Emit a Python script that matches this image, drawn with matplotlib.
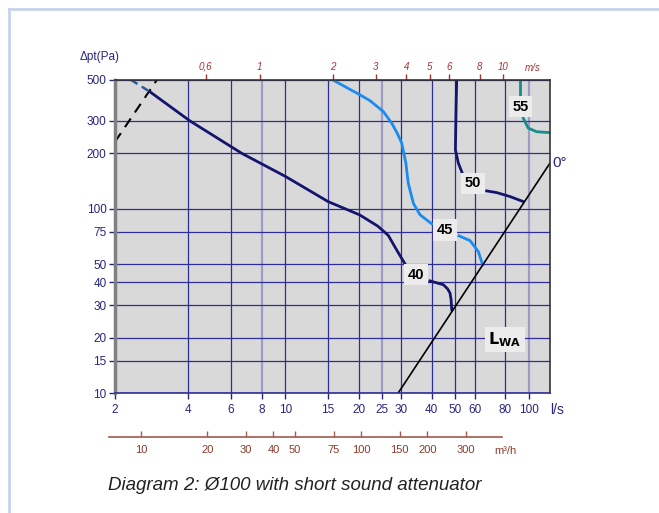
import matplotlib
matplotlib.use("Agg")
import matplotlib.pyplot as plt
from matplotlib.lines import Line2D
from matplotlib.ticker import NullLocator

plt.rcParams['font.family'] = ['Liberation Sans', 'DejaVu Sans']

NAVY = '#14146e'
GRID = '#2e2e96'
GRID_LIGHT = '#9c9cc8'
TXT = '#262680'
RED = '#a83232'
BROWN = '#8b3a2a'

# axis ticks
ls_ticks = [2, 4, 6, 8, 10, 15, 20, 25, 30, 40, 50, 60, 80, 100]
pa_ticks = [10, 15, 20, 30, 40, 50, 75, 100, 200, 300, 500]
ms_ticks = [0.6, 1, 2, 3, 4, 5, 6, 8, 10]
ms_labels = ['0,6', '1', '2', '3', '4', '5', '6', '8', '10']
m3h_ticks = [10, 20, 30, 40, 50, 75, 100, 150, 200, 300]
light_lines = [8, 25, 100]

# sound level curves: flow q (l/s) against pressure drop (Pa)
q40_dash = [2.33, 2.78]
p40_dash = [500, 432]
q40a = [2.78, 4.06, 6.63, 10.05, 15.0, 20.2, 24.0, 26.5, 29.0, 31.5]
p40a = [432, 300, 200, 149.5, 109.4, 92.7, 80.5, 71.7, 58.3, 48.6]
q40b = [39.3, 44.6, 46.4, 47.5, 48.0, 48.3]
p40b = [40.6, 38.7, 36.8, 34.9, 32.1, 28.3]

q45a = [15.7, 20.3, 22.3, 25.3, 27.4, 28.8, 30.1, 31.3, 32.0, 33.6, 35.8, 40.0]
p45a = [500, 415, 386, 337, 291, 258, 227, 177, 138, 107, 92.7, 82.8]
q45b = [51.7, 57.4, 62.1, 64.7]
p45b = [71.3, 67.2, 58.6, 49.6]

q50a = [50.6, 50.3, 50.0, 51.4, 53.9]
p50a = [500, 344, 209, 177, 151]
q50b = [67.2, 73.9, 83.8, 95.0]
p50b = [125, 122.4, 116.5, 109.4]

q55a = [92.1, 92.1]
p55a = [500, 415]
q55b = [95.0, 99.6, 107.8, 122]
p55b = [310, 274, 262, 259]

# damper 0 deg line and the dashed limit line
q0 = [29.1, 122.3]
p0 = [10, 177]
q_lim = [2.0, 2.97]
p_lim = [231, 500]

# curve labels
labels = ['40', '45', '50', '55']
label_q = [34.4, 45.3, 58.9, 92.7]
label_p = [43.8, 76.8, 137.7, 358]


def q2v(q):
    return q / 7.854


def v2q(v):
    return v * 7.854


fig = plt.figure(figsize=(6.59, 5.13), dpi=100)
W, H = 659, 513
ax = fig.add_axes([115 / W, 1 - 393 / H, 435 / W, 313 / H])
ax.set_facecolor('#d9d9d9')
ax.set_xscale('log')
ax.set_yscale('log')
ax.set_xlim(2, 122.3)
ax.set_ylim(10, 500)

ax.set_xticks(ls_ticks, [str(t) for t in ls_ticks])
ax.set_yticks(pa_ticks, [str(t) for t in pa_ticks])
ax.xaxis.set_minor_locator(NullLocator())
ax.yaxis.set_minor_locator(NullLocator())
ax.tick_params(axis='both', colors=TXT, labelsize=8.5, length=4, width=1, pad=2)
ax.tick_params(axis='x', pad=4)
ax.set_axisbelow(True)
ax.grid(True, color=GRID, linewidth=0.9)
for t in ax.xaxis.get_major_ticks():
    if t.get_loc() in light_lines:
        t.gridline.set_color(GRID_LIGHT)
        t.gridline.set_linewidth(1.6)

ax.spines['left'].set_color('#808080')
ax.spines['left'].set_linewidth(2.5)
ax.spines['top'].set_color('#333333')
ax.spines['right'].set_color('#333333')
ax.spines['bottom'].set_color(GRID)
for s in ['top', 'right', 'bottom']:
    ax.spines[s].set_linewidth(1.2)

# curves
ax.plot(q_lim, p_lim, color='black', lw=1.5, ls=(0, (5, 3.5)))
ax.plot(q40_dash, p40_dash, color='#2a5a9a', lw=1.8, ls=(0, (3, 2)))
ax.plot(q40a, p40a, color=NAVY, lw=2)
ax.plot(q40b, p40b, color=NAVY, lw=2)
ax.plot(q45a, p45a, color='#1a8cf0', lw=2)
ax.plot(q45b, p45b, color='#1a8cf0', lw=2)
ax.plot(q50a, p50a, color=NAVY, lw=2)
ax.plot(q50b, p50b, color=NAVY, lw=2)
ax.plot(q55a, p55a, color='#168c8c', lw=2)
ax.plot(q55b, p55b, color='#168c8c', lw=2)
ax.plot(q0, p0, color='black', lw=1.2)

for txt, q, p in zip(labels, label_q, label_p):
    ax.text(q, p, txt, ha='center', va='center', fontsize=10.5, fontweight='bold',
            color='black',
            bbox=dict(boxstyle='square,pad=0.25', fc='#ececec', ec='none'))
ax.text(79.9, 19.5, r'$\mathbf{L_{WA}}$', ha='center', va='center', fontsize=11.5,
        color='black', bbox=dict(boxstyle='square,pad=0.2', fc='#ececec', ec='none'))
ax.text(124.6, 177, '0°', ha='left', va='center', fontsize=11, color=TXT,
        clip_on=False)

# velocity scale on top
sec = ax.secondary_xaxis('top', functions=(q2v, v2q))
sec.set_xticks(ms_ticks, ms_labels)
sec.xaxis.set_minor_locator(NullLocator())
sec.tick_params(colors=RED, labelsize=7, length=4, width=1, pad=2)
for lab in sec.get_xticklabels():
    lab.set_style('italic')
sec.spines['top'].set_visible(False)

# m3/h scale below
ax2 = fig.add_axes([109 / W, 1 - 437 / H, 393 / W, 0.001])
ax2.set_xscale('log')
ax2.set_xlim(7.15, 437.5)
ax2.set_xticks(m3h_ticks, [str(t) for t in m3h_ticks])
ax2.xaxis.set_minor_locator(NullLocator())
ax2.yaxis.set_visible(False)
ax2.patch.set_visible(False)
for s in ['top', 'left', 'right']:
    ax2.spines[s].set_visible(False)
ax2.spines['bottom'].set_color('#a05a50')
ax2.spines['bottom'].set_linewidth(1.2)
ax2.tick_params(axis='x', direction='in', length=4, width=1, colors='#a05a50',
                labelcolor=BROWN, labelsize=8, pad=6)

fig.text(80 / W, 1 - 57 / H, 'Δpt(Pa)', ha='left', va='center', fontsize=8.5, color=TXT)
fig.text(557 / W, 1 - 410 / H, 'l/s', ha='center', va='center', fontsize=10, color=TXT)
fig.text(533 / W, 1 - 68 / H, 'm/s', ha='center', va='center', fontsize=7,
         color=RED, style='italic')
fig.text(505 / W, 1 - 451 / H, 'm³/h', ha='center', va='center', fontsize=8, color=BROWN)
fig.text(295 / W, 1 - 485 / H, 'Diagram 2: Ø100 with short sound attenuator',
         ha='center', va='center', fontsize=13.5, style='italic', color='#222222')

# panel frame
fig.add_artist(Line2D([9 / W, 1], [1 - 9 / H, 1 - 9 / H], color='#c5d3ea', lw=2))
fig.add_artist(Line2D([9 / W, 9 / W], [0, 1 - 9 / H], color='#c5d3ea', lw=2))

fig.savefig('out.png', dpi=100)
